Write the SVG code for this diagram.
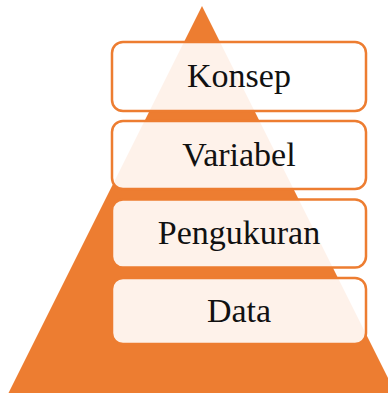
<svg xmlns="http://www.w3.org/2000/svg" width="388" height="393" viewBox="0 0 388 393">
<style>
.box{fill:#ffffff;fill-opacity:0.9;stroke:#ED7D31;stroke-width:2.5}
.lbl{font-family:"Liberation Serif","DejaVu Serif",serif;font-size:34px;fill:#111111;text-anchor:middle}
</style>
<rect width="388" height="393" fill="#ffffff"/>
<polygon id="pyramid" points="202,6 8.5,393 395.5,393" fill="#ED7D31"/>
<g id="konsep"><rect class="box" x="112" y="42" width="254" height="69" rx="11"/><text class="lbl" x="239" y="87">Konsep</text></g>
<g id="variabel"><rect class="box" x="112" y="121" width="254" height="68" rx="11"/><text class="lbl" x="239" y="166">Variabel</text></g>
<g id="pengukuran"><rect class="box" x="112" y="199.5" width="254" height="68" rx="11"/><text class="lbl" x="239" y="244">Pengukuran</text></g>
<g id="data"><rect class="box" x="112" y="278" width="254" height="66" rx="11"/><text class="lbl" x="239" y="322">Data</text></g>
</svg>
